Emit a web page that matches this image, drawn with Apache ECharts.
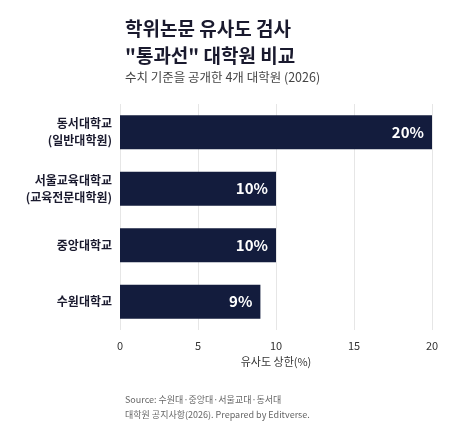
<!DOCTYPE html>
<html><head><meta charset="utf-8">
<script src="https://cdn.jsdelivr.net/npm/echarts@6/dist/echarts.min.js"></script>
<style>html,body{margin:0;padding:0;background:#fff}#c{width:468px;height:432px}</style>
</head><body><div id="c"></div>
<script>
const categories = ["동서대학교\n(일반대학원)", "서울교육대학교\n(교육전문대학원)", "중앙대학교", "수원대학교"];
const values = [20, 10, 10, 9];
const xTicks = [0, 5, 10, 15, 20];
const font = "'Noto Sans CJK KR', 'Noto Sans', sans-serif";
const chart = echarts.init(document.getElementById('c'));
chart.setOption({
  backgroundColor: '#fff',
  animation: false,
  title: [
    {text: '학위논문 유사도 검사\n"통과선" 대학원 비교', left: 120, top: 10,
     textStyle: {fontFamily: font, fontSize: 19, fontWeight: 'bold', color: '#1a1a2e', lineHeight: 27}},
    {text: '수치 기준을 공개한 4개 대학원 (2026)', left: 120, top: 66,
     textStyle: {fontFamily: font, fontSize: 12.5, fontWeight: 'normal', color: '#444'}},
    {text: 'Source: 수원대·중앙대·서울교대·동서대\n대학원 공지사항(2026). Prepared by Editverse.', left: 120, top: 387,
     textStyle: {fontFamily: font, fontSize: 9, fontWeight: 'normal', color: '#666', lineHeight: 15}}
  ],
  grid: {left: 120, right: 36, top: 104, bottom: 102},
  xAxis: {
    type: 'value', min: 0, max: 20, interval: 5,
    name: '유사도 상한(%)', nameLocation: 'middle', nameGap: 22,
    nameTextStyle: {fontFamily: font, fontSize: 11, color: '#333'},
    axisLabel: {fontFamily: font, fontSize: 11, color: '#333', margin: 10},
    axisLine: {show: false}, axisTick: {show: false},
    splitLine: {lineStyle: {color: '#e6e6e6'}}
  },
  yAxis: {
    type: 'category', data: categories, inverse: true,
    axisLabel: {fontFamily: font, fontSize: 12, fontWeight: 'bold', color: '#1a1a2e', margin: 8, lineHeight: 17, align: 'right'},
    axisLine: {show: false}, axisTick: {show: false}
  },
  series: [{
    type: 'bar', data: values, barWidth: 34,
    itemStyle: {color: '#131c3d'},
    label: {show: true, position: 'insideRight', formatter: '{c}%', color: '#fff',
            fontFamily: font, fontSize: 15, fontWeight: 'bold', distance: 8}
  }]
});
</script></body></html>
